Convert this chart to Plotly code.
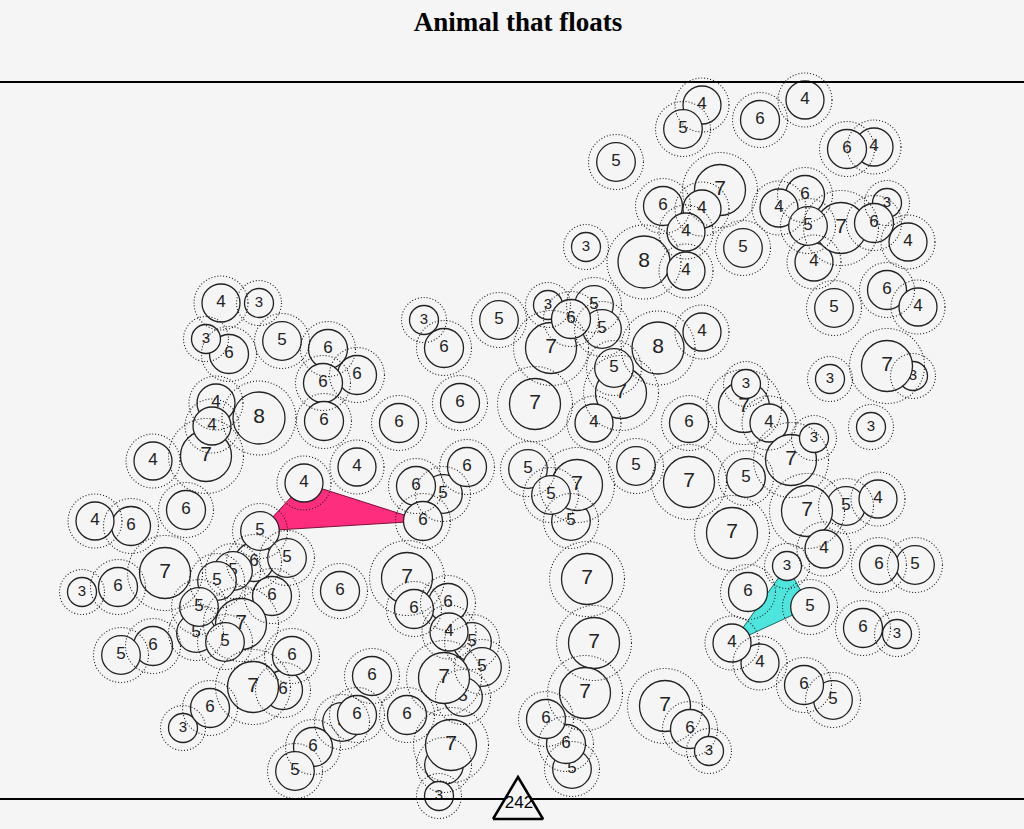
import plotly.graph_objects as go

W, H = 1024, 829
BG = "#f6f5f6"
INK = "#222222"

title_text = "Animal that floats"

# circle centres (in chart units = pixels of the 1024x829 canvas) and their values, in draw order
cx = [702, 683, 760, 805, 874, 847, 616, 720, 663, 702, 686, 586, 644, 686, 743,
      805, 779, 814, 841, 808, 887, 874, 908, 887, 918, 834, 913, 887, 830, 871,
      702, 658, 548, 594, 602, 551, 571, 621, 614, 594, 535, 499, 424, 444, 460,
      399, 357, 443, 467, 416, 423, 571, 577, 528, 551, 636, 689, 744, 746, 769,
      791, 814, 689, 746, 732, 846, 807, 878, 824, 915, 879, 787, 748, 810, 897,
      863, 760, 732, 833, 804, 665, 690, 709, 587, 594, 585, 572, 566, 546,
      407, 448, 414, 472, 449, 482, 463, 444, 372, 342, 357, 407, 444, 451, 439, 340,
      221, 259, 229, 206, 282, 328, 357, 323, 324, 216, 206, 212, 259, 153, 304,
      186, 131, 95, 254, 260, 287, 233, 217, 272, 82, 118, 165, 196, 241, 199,
      225, 153, 121, 283, 292, 253, 183, 210, 313, 295]
cy = [105, 129, 120, 100, 147, 149, 162, 190, 206, 209, 232, 247, 262, 271, 248,
      195, 208, 262, 228, 226, 203, 223, 242, 290, 307, 308, 376, 366, 379, 427,
      332, 348, 305, 305, 329, 348, 319, 393, 368, 423, 404, 320, 320, 348, 403,
      423, 467, 494, 467, 486, 521, 521, 485, 469, 495, 466, 423, 407, 384, 423,
      460, 438, 482, 478, 533, 506, 511, 499, 549, 565, 565, 566, 592, 607, 634,
      628, 663, 643, 700, 685, 706, 729, 751, 579, 643, 693, 769, 744, 719,
      578, 603, 609, 642, 632, 667, 697, 678, 676, 722, 715, 715, 765, 745, 796, 591,
      303, 303, 354, 339, 341, 349, 375, 383, 421, 403, 456, 426, 418, 461, 483,
      510, 526, 521, 562, 531, 558, 571, 581, 596, 592, 587, 573, 633, 624, 607,
      642, 646, 655, 690, 656, 687, 728, 708, 747, 771]
val = [4, 5, 6, 4, 4, 6, 5, 7, 6, 4, 4, 3, 8, 4, 5,
       6, 4, 4, 7, 5, 3, 6, 4, 6, 4, 5, 3, 7, 3, 3,
       4, 8, 3, 5, 5, 7, 6, 7, 5, 4, 7, 5, 3, 6, 6,
       6, 4, 5, 6, 6, 6, 5, 7, 5, 5, 5, 6, 7, 3, 4,
       7, 3, 7, 5, 7, 5, 7, 4, 4, 5, 6, 3, 6, 5, 3,
       6, 4, 4, 5, 6, 7, 6, 3, 7, 7, 7, 5, 6, 6,
       7, 6, 6, 5, 4, 5, 5, 7, 6, 5, 6, 6, 5, 7, 3, 6,
       4, 3, 6, 3, 5, 6, 6, 6, 6, 4, 7, 4, 8, 4, 4,
       6, 6, 4, 6, 5, 5, 5, 5, 6, 3, 6, 7, 5, 7, 5,
       5, 6, 5, 6, 6, 7, 3, 6, 6, 5]

# highlighted groups (member circle centres)
pink_nodes = [(304, 483), (260, 531), (423, 521)]
cyan_nodes = [(787, 566), (810, 607), (732, 643)]
pink_color, pink_edge = "#ff2d7d", "#7a1038"
cyan_color, cyan_edge = "#4de5de", "#1d6b66"

rule_levels = [82, 799]
total_value = "242"
total_x, total_y = 518, 800

# size / style lookups by value
R_IN = {3: 14.5, 4: 19, 5: 19.3, 6: 19.5, 7: 25.5, 8: 26}
R_OUT = {3: 22.5, 4: 27, 5: 27.5, 6: 27.5, 7: 37.5, 8: 37}
FSZ = {3: 15, 4: 17, 5: 17, 6: 17, 7: 21, 8: 21}

fig = go.Figure()


def group_trace(nodes, fill, edge):
    ids = [i for i, p in enumerate(zip(cx, cy)) if p in nodes]
    xs = [cx[i] for i in ids] + [cx[ids[0]]]
    ys = [cy[i] for i in ids] + [cy[ids[0]]]
    return go.Scatter(x=xs, y=ys, mode="lines", fill="toself", fillcolor=fill,
                      line=dict(color=edge, width=1), hoverinfo="skip", showlegend=False)


fig.add_trace(group_trace(pink_nodes, pink_color, pink_edge))
fig.add_trace(group_trace(cyan_nodes, cyan_color, cyan_edge))

for x, y, v in zip(cx, cy, val):
    fig.add_trace(go.Scatter(
        x=[x], y=[y], mode="markers+text", text=[str(v)],
        textposition="middle center",
        textfont=dict(family="Liberation Sans, Arial, sans-serif", size=FSZ[v], color=INK),
        marker=dict(size=2 * R_IN[v], color=BG, line=dict(color=INK, width=1.3)),
        hoverinfo="skip", showlegend=False, cliponaxis=False))

for ly in rule_levels:
    fig.add_trace(go.Scatter(x=[0, W], y=[ly, ly], mode="lines",
                             line=dict(color="#000000", width=2),
                             hoverinfo="skip", showlegend=False))

# total marker: triangle with count
tw, th = 25, 42
fig.add_trace(go.Scatter(
    x=[total_x - tw, total_x, total_x + tw, total_x - tw],
    y=[total_y + 19, total_y + 19 - th, total_y + 19, total_y + 19],
    mode="lines", fill="toself", fillcolor=BG,
    line=dict(color="#000000", width=2.5), hoverinfo="skip", showlegend=False))
fig.add_trace(go.Scatter(
    x=[total_x + 1], y=[total_y + 4], mode="text", text=[total_value],
    textposition="middle center",
    textfont=dict(family="Liberation Sans, Arial, sans-serif", size=17, color="#000000"),
    hoverinfo="skip", showlegend=False, cliponaxis=False))

shapes = []
for x, y, v in zip(cx, cy, val):
    r = R_OUT[v]
    shapes.append(dict(type="circle", xref="x", yref="y",
                       x0=x - r, x1=x + r, y0=y - r, y1=y + r,
                       line=dict(color="#1a1a1a", width=1.1, dash="1px,2px"),
                       layer="above"))

fig.update_layout(
    width=W, height=H, autosize=False,
    margin=dict(l=0, r=0, t=0, b=0, pad=0),
    paper_bgcolor=BG, plot_bgcolor=BG,
    shapes=shapes,
    title=dict(text="<b>" + title_text + "</b>", x=518 / W, xanchor="center",
               y=1 - 22 / H, yanchor="middle",
               font=dict(family="Liberation Serif, serif", size=27, color="#000000")),
    xaxis=dict(range=[0, W], visible=False, fixedrange=True),
    yaxis=dict(range=[H, 0], visible=False, fixedrange=True),
    hovermode=False,
)

fig.write_html("out.html", config={"displayModeBar": False, "staticPlot": True})
